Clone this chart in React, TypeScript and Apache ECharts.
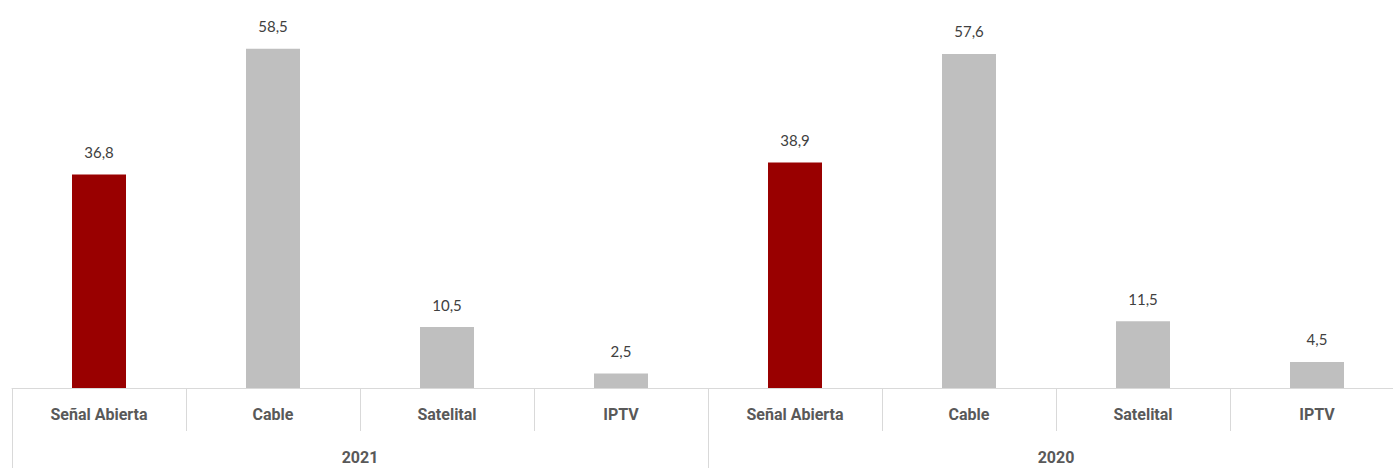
import React, { useEffect, useRef } from "react";
import * as echarts from "echarts";

const categories = ["Señal Abierta", "Cable", "Satelital", "IPTV"];
const years = ["2021", "2020"];
const values2021 = [36.8, 58.5, 10.5, 2.5];
const values2020 = [38.9, 57.6, 11.5, 4.5];
const highlightCategory = "Señal Abierta";

const RED = "#990000";
const GRAY = "#bfbfbf";
const LINE = "#d9d9d9";
const AXIS_FONT = "Roboto, 'Liberation Sans Narrow', sans-serif";

export default function App() {
  const ref = useRef<HTMLDivElement>(null);
  useEffect(() => {
    document.body.style.margin = "0";
    if (!ref.current) return;
    const chart = echarts.init(ref.current, undefined, { renderer: "svg" });
    const allCats = [...categories, ...categories];
    const allVals = [...values2021, ...values2020];
    const data = allVals.map((v, i) => ({
      value: v,
      itemStyle: { color: allCats[i] === highlightCategory ? RED : GRAY },
    }));
    chart.setOption({
      animation: false,
      grid: { left: 12, right: -11, top: 11, height: 377, containLabel: false, outerBoundsMode: "none" },
      xAxis: [
        {
          type: "category",
          data: allCats,
          position: "bottom",
          axisLine: { show: true, lineStyle: { color: LINE, width: 1 } },
          axisTick: { show: true, interval: 0, length: 43, lineStyle: { color: LINE } },
          axisLabel: {
            interval: 0,
            margin: 18,
            color: "#595959",
            fontSize: 16,
            fontWeight: "bold",
            fontFamily: AXIS_FONT,
          },
        },
        {
          type: "category",
          data: years,
          position: "bottom",
          axisLine: { show: false },
          axisTick: { show: true, interval: 0, length: 80, lineStyle: { color: LINE } },
          axisLabel: {
            interval: 0,
            margin: 61,
            color: "#595959",
            fontSize: 16,
            fontWeight: "bold",
            fontFamily: AXIS_FONT,
          },
        },
      ],
      yAxis: {
        type: "value",
        min: 0,
        max: 65,
        show: false,
        splitLine: { show: false },
      },
      series: [
        {
          type: "bar",
          xAxisIndex: 0,
          data,
          barWidth: 54,
          label: {
            show: true,
            position: "top",
            distance: 15,
            color: "#404040",
            fontSize: 15,
            fontFamily: "Lato, 'Open Sans', sans-serif",
            formatter: (p: any) => String(p.value.toFixed(1)).replace(".", ","),
          },
        },
      ],
    });
    return () => chart.dispose();
  }, []);
  return <div ref={ref} style={{ width: 1393, height: 468 }} />;
}
